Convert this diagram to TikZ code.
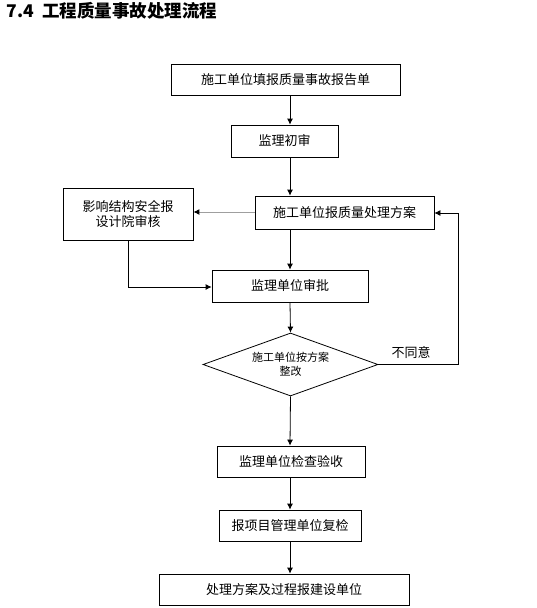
\documentclass[tikz,border=0pt]{standalone}
\usepackage{fontspec}
\newfontfamily\cjk{Noto Sans CJK SC}
\usetikzlibrary{arrows.meta,shapes.geometric}
\begin{document}
\begin{tikzpicture}[x=1pt,y=-1pt,
  box/.style={draw,line width=0.8pt,rectangle,inner sep=0pt,font=\cjk\fontsize{13}{15}\selectfont,align=center},
  arr/.style={line width=0.8pt,-{Latex[length=6pt,width=6pt]}},
  ln/.style={line width=0.8pt}]
\useasboundingbox (0,0) rectangle (536,608);
\node[anchor=west,font=\cjk\bfseries\fontsize{17.5}{19}\selectfont] (title) at (3,11) {7.4\ \ 工程质量事故处理流程};
\node[box,minimum width=229pt,minimum height=31pt] (b1) at (285.5,79.5) {施工单位填报质量事故报告单};
\node[box,minimum width=107pt,minimum height=32pt] (b2) at (284.5,141) {监理初审};
\node[box,minimum width=179pt,minimum height=33pt] (b3) at (344.5,212.5) {施工单位报质量处理方案};
\node[box,minimum width=130pt,minimum height=52pt] (b4) at (128,214) {影响结构安全报\\设计院审核};
\node[box,minimum width=156pt,minimum height=32pt] (b5) at (290,286) {监理单位审批};
\node[draw,line width=0.8pt,diamond,aspect=2.78,inner sep=0pt,minimum width=175pt,minimum height=63pt,font=\cjk\fontsize{11}{14}\selectfont,align=center] (d) at (290.5,364.5) {施工单位按方案\\整改};
\node[box,minimum width=148pt,minimum height=31pt] (b7) at (291,461.5) {监理单位检查验收};
\node[box,minimum width=142pt,minimum height=31pt] (b8) at (290,525.5) {报项目管理单位复检};
\node[box,minimum width=250pt,minimum height=31pt] (b9) at (284,589.5) {处理方案及过程报建设单位};
\coordinate (c1) at (458,364.5);
\coordinate (c2) at (458,213);
\coordinate (c3) at (128,287);
\draw[arr] (b1.south -| 290,0) -- (b2.north -| 290,0);
\draw[arr] (b2.south -| 290,0) -- (b3.north -| 290,0);
\draw[arr] (b3.south -| 290,0) -- (b5.north -| 290,0);
\draw[arr] (b5.south -| 290,0) -- (d.north);
\draw[arr] (d.south) -- (b7.north -| 290,0);
\draw[arr] (b7.south -| 290,0) -- (b8.north -| 290,0);
\draw[arr] (b8.south -| 290,0) -- (b9.north -| 290,0);
\draw[line width=1pt,draw=gray!75,-{Latex[length=6pt,width=6pt,color=black]}] (b3.west |- 0,212) -- (b4.east |- 0,212);
\draw[arr] (b4.south) -- (c3) -- (b5.west |- c3);
\draw[arr] (d.east) -- (c1) -- (c2) -- (b3.east |- c2);
\node[font=\cjk\fontsize{13}{15}\selectfont] (lbl) at (411,353) {不同意};
\end{tikzpicture}
\end{document}
